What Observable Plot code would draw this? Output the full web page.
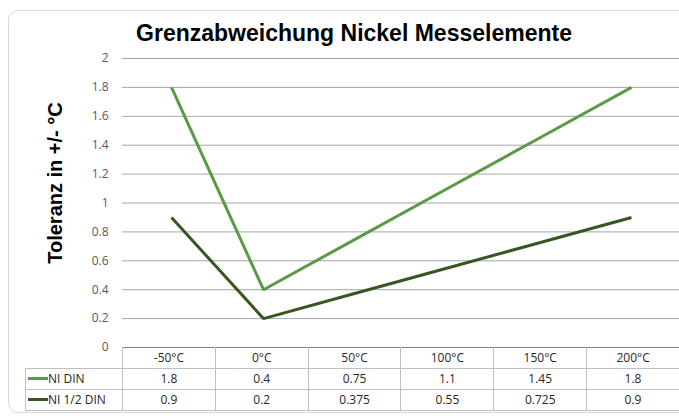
<!DOCTYPE html>
<html>
<head>
<meta charset="utf-8">
<script src="https://cdn.jsdelivr.net/npm/d3@7"></script>
<script src="https://cdn.jsdelivr.net/npm/@observablehq/plot@0.6"></script>
<style>
  html, body { margin: 0; padding: 0; background: #fff; }
  #wrap { position: relative; width: 679px; height: 416px; overflow: hidden; background: #fff; }
  #frame { position: absolute; left: 8px; top: 10px; width: 760px; height: 403px; border: 1px solid #d9d9d9; border-radius: 10px; box-sizing: border-box; }
  #title { position: absolute; left: 0; width: 708px; top: 22px; text-align: center; font-family: "Liberation Sans", Arial, sans-serif; font-weight: bold; font-size: 23px; color: #000; white-space: nowrap; line-height: 1; }
  #ylabel { position: absolute; left: 55px; top: 183px; transform: translate(-50%, -50%) rotate(-90deg); font-family: "Liberation Sans", Arial, sans-serif; font-weight: bold; font-size: 20px; color: #000; white-space: nowrap; line-height: 1; }
  #plot { position: absolute; left: 0; top: 0; }
  #tbl { position: absolute; left: 25px; top: 347px; border-collapse: collapse; table-layout: fixed; font-family: "Open Sans", sans-serif; font-size: 12px; color: #262626; }
  #tbl td { height: 20px; padding: 0; text-align: center; border: 1px solid #bfbfbf; box-sizing: border-box; line-height: 1; }
  #tbl tr.head td { border-top: 1px solid #7f7f7f; }
  #tbl tr.head td.blank { border: none; border-right: 1px solid #bfbfbf; }
  #tbl td.lab { text-align: left; white-space: nowrap; }
  .sw { display: inline-block; width: 20px; height: 3px; vertical-align: middle; margin-left: 2px; margin-right: 0px; position: relative; top: -1px; }
</style>
</head>
<body>
<div id="wrap">
  <div id="frame"></div>
  <div id="plot"></div>
  <div id="title"></div>
  <div id="ylabel"></div>
</div>
<script>
const chartTitle = "Grenzabweichung Nickel Messelemente";
const yTitle = "Toleranz in +/- °C";
const categories = ["-50°C", "0°C", "50°C", "100°C", "150°C", "200°C"];
const seriesNames = ["NI DIN", "NI 1/2 DIN"];
const seriesColors = ["#5a9a46", "#375623"];
const niDin = [1.8, 0.4, 0.75, 1.1, 1.45, 1.8];
const niHalfDin = [0.9, 0.2, 0.375, 0.55, 0.725, 0.9];
const yTicks = [0, 0.2, 0.4, 0.6, 0.8, 1, 1.2, 1.4, 1.6, 1.8, 2];
const tableLabels = ["1.8", "0.4", "0.75", "1.1", "1.45", "1.8"];
const tableLabels2 = ["0.9", "0.2", "0.375", "0.55", "0.725", "0.9"];

const seriesValues = [niDin, niHalfDin];
const rows = [];
seriesNames.forEach((s, i) => {
  categories.forEach((c, j) => rows.push({series: s, cat: c, value: seriesValues[i][j]}));
});

document.getElementById("title").textContent = chartTitle;
document.getElementById("ylabel").textContent = yTitle;

const chart = Plot.plot({
  width: 679,
  height: 416,
  marginLeft: 122,
  marginRight: 0,
  marginTop: 58,
  marginBottom: 69,
  style: {fontFamily: "'Open Sans', sans-serif", fontSize: "12px", background: "transparent", overflow: "visible"},
  x: {type: "point", domain: categories, padding: 0.5, axis: null},
  y: {domain: [0, 2], axis: null},
  color: {domain: seriesNames, range: seriesColors},
  marks: [
    Plot.gridY(yTicks.filter(d => d > 0), {stroke: "#a6a6a6", strokeOpacity: 1, strokeWidth: 1}),
    Plot.axisY({ticks: yTicks, tickSize: 0, tickPadding: 14, fill: "#595959", fontSize: 12, label: null,
      tickFormat: d => String(+d.toFixed(1))}),
    Plot.line(rows, {x: "cat", y: "value", z: "series", stroke: "series", strokeWidth: 3, strokeLinejoin: "miter", strokeLinecap: "butt"})
  ]
});
document.getElementById("plot").appendChild(chart);

// data table
const tbl = document.createElement("table");
tbl.id = "tbl";
const colg = document.createElement("colgroup");
const c0 = document.createElement("col"); c0.style.width = "97px"; colg.appendChild(c0);
categories.forEach(() => { const c = document.createElement("col"); c.style.width = (557 / categories.length) + "px"; colg.appendChild(c); });
tbl.appendChild(colg);
tbl.style.width = (97 + 557) + "px";
const head = document.createElement("tr"); head.className = "head";
const blank = document.createElement("td"); blank.className = "blank"; head.appendChild(blank);
categories.forEach(c => { const td = document.createElement("td"); td.textContent = c; head.appendChild(td); });
head.style.height = "21px";
tbl.appendChild(head);
const labelArrays = [tableLabels, tableLabels2];
seriesNames.forEach((s, i) => {
  const tr = document.createElement("tr");
  tr.style.height = "21px";
  const lab = document.createElement("td"); lab.className = "lab";
  const sw = document.createElement("span"); sw.className = "sw"; sw.style.background = seriesColors[i];
  lab.appendChild(sw);
  lab.appendChild(document.createTextNode(s));
  tr.appendChild(lab);
  labelArrays[i].forEach(v => { const td = document.createElement("td"); td.textContent = v; tr.appendChild(td); });
  tbl.appendChild(tr);
});
document.getElementById("wrap").appendChild(tbl);
</script>
</body>
</html>
